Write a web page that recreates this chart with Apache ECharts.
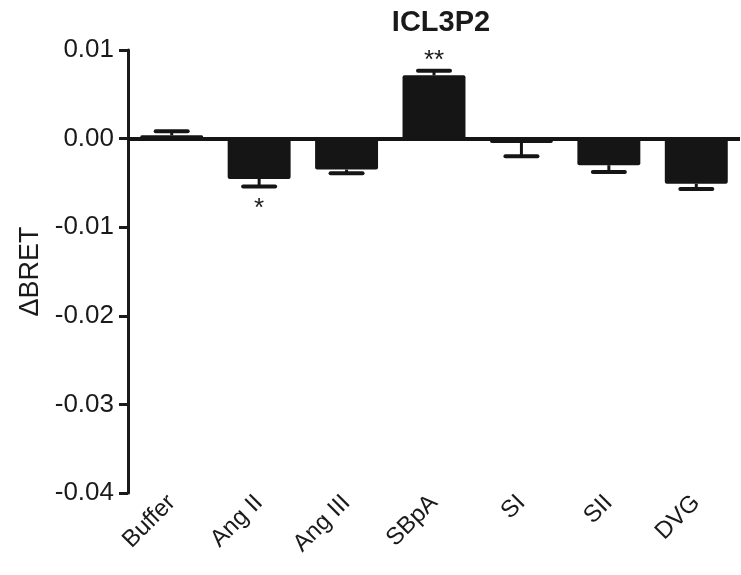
<!DOCTYPE html>
<html><head><meta charset="utf-8">
<script src="https://cdn.jsdelivr.net/npm/echarts@6/dist/echarts.min.js"></script>
<style>html,body{margin:0;padding:0;background:#fff}#c{width:741px;height:575px}</style>
</head><body><div id="c"></div>
<script>
const categories = ['Buffer', 'Ang II', 'Ang III', 'SBpA', 'SI', 'SII', 'DVG'];
const means = [0.00037, -0.00455, -0.0035, 0.00714, -0.00049, -0.0030, -0.0051];
const errors = [0.00045, 0.00085, 0.0004, 0.00053, 0.0015, 0.00076, 0.0006];
const stars = ['', '*', '', '**', '', '', ''];
const yTickValues = [0.01, 0.00, -0.01, -0.02, -0.03, -0.04];
const yTickLabels = ['0.01', '0.00', '-0.01', '-0.02', '-0.03', '-0.04'];

const FONT = '"Liberation Sans", Arial, sans-serif';
const chart = echarts.init(document.getElementById('c'));
const errData = categories.map((c, i) => [i, means[i], errors[i], stars[i]]);

chart.setOption({
  animation: false,
  title: {text: 'ICL3P2', left: 436, top: 3, textAlign: 'center',
    textStyle: {fontFamily: FONT, fontSize: 29, fontWeight: 'bold', color: '#1a1a1a'}},
  grid: {left: 128, right: 1, top: 50, bottom: 82},
  xAxis: {type: 'category', data: categories, position: 'bottom',
    axisLine: {show: false, onZero: false}, axisTick: {show: false},
    axisLabel: {rotate: 45, margin: 6, fontFamily: FONT, fontSize: 24, color: '#1a1a1a'}},
  yAxis: {type: 'value', min: -0.04, max: 0.01, interval: 0.01,
    name: 'ΔBRET', nameLocation: 'middle', nameGap: 78,
    nameTextStyle: {fontFamily: FONT, fontSize: 27, color: '#1a1a1a'},
    axisLine: {show: true, lineStyle: {color: '#1a1a1a', width: 3}},
    axisTick: {show: true, length: 9, lineStyle: {color: '#1a1a1a', width: 3}},
    splitLine: {show: false},
    axisLabel: {margin: 14, fontFamily: FONT, fontSize: 26, color: '#1a1a1a',
      formatter: v => { const i = yTickValues.findIndex(t => Math.abs(t - v) < 1e-9); return i >= 0 ? yTickLabels[i] : ''; }}},
  series: [
    {type: 'bar', data: means, barWidth: '72%',
      itemStyle: {color: '#151515', borderRadius: 2},
      markLine: {silent: true, symbol: 'none', label: {show: false},
        lineStyle: {color: '#151515', width: 4, type: 'solid'},
        data: [{yAxis: 0}]}},
    {type: 'custom', data: errData, z: 5,
      renderItem: (params, api) => {
        const i = api.value(0), m = api.value(1), e = api.value(2);
        const end = m >= 0 ? m + e : m - e;
        const p0 = api.coord([i, m]);
        const p1 = api.coord([i, end]);
        const hw = 16;
        const star = errData[params.dataIndex][3];
        const children = [
          {type: 'line', shape: {x1: p0[0], y1: p0[1], x2: p1[0], y2: p1[1]}, style: {stroke: '#151515', lineWidth: 3}},
          {type: 'line', shape: {x1: p1[0] - hw, y1: p1[1], x2: p1[0] + hw, y2: p1[1]}, style: {stroke: '#151515', lineWidth: 4, lineCap: 'round'}}
        ];
        if (star) {
          children.push({type: 'text', style: {text: star, x: p1[0], y: m >= 0 ? p1[1] + 3 : p1[1] + 35,
            textAlign: 'center', textVerticalAlign: 'bottom', fontFamily: FONT, fontSize: 26, fill: '#1a1a1a'}});
        }
        return {type: 'group', children};
      }}
  ]
});
</script></body></html>
